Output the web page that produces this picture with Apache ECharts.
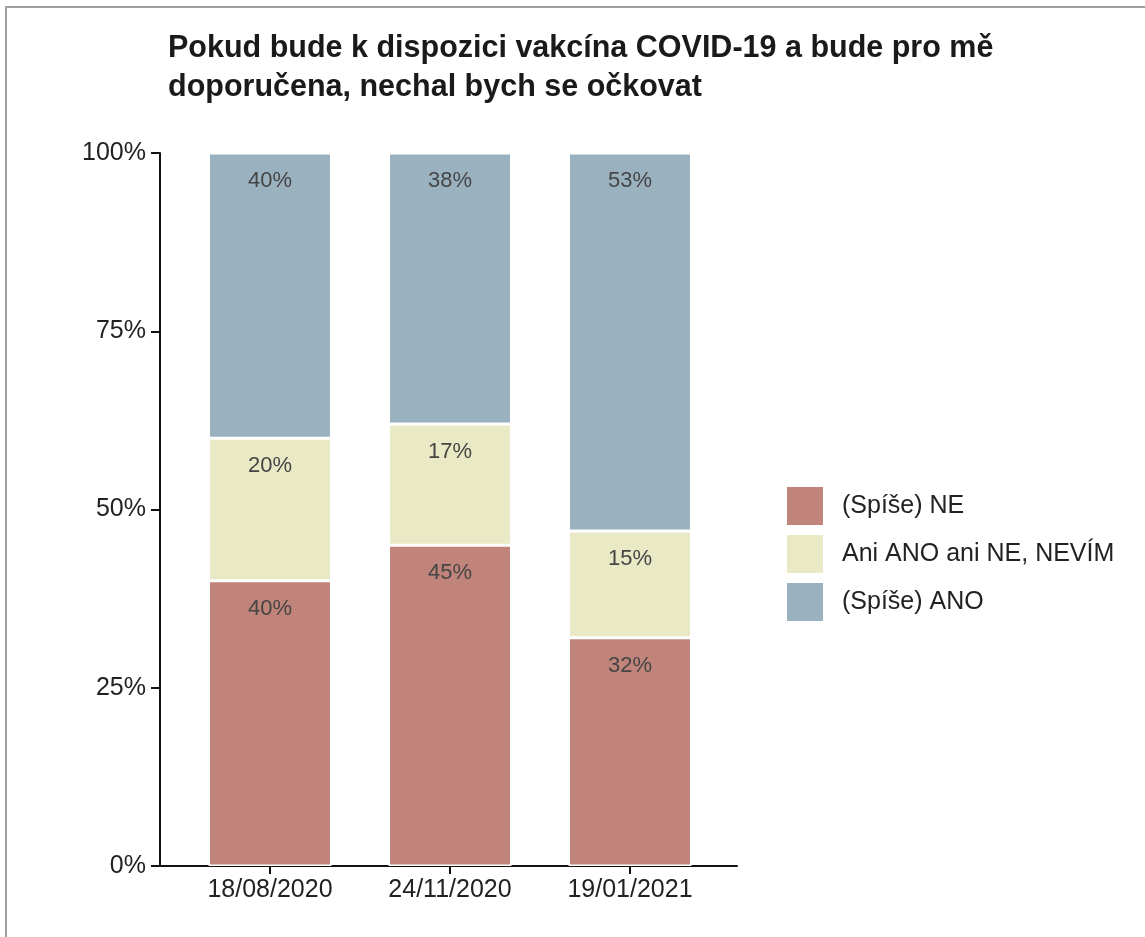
<!DOCTYPE html>
<html>
<head>
<meta charset="utf-8">
<script src="https://cdn.jsdelivr.net/npm/echarts@6/dist/echarts.min.js"></script>
<style>
    html, body { margin: 0; padding: 0; background: #fff; }
    #chart { width: 1145px; height: 937px; }
    #frame { position: absolute; left: 5px; top: 6px; right: 0; bottom: 0; border-top: 2px solid #a0a0a0; border-left: 2px solid #a0a0a0; pointer-events: none; }
</style>
</head>
<body>
<div id="chart"></div>
<div id="frame"></div>
<script>
var titleText = 'Pokud bude k dispozici vakcína COVID-19 a bude pro mě\ndoporučena, nechal bych se očkovat';
var dates = ['18/08/2020', '24/11/2020', '19/01/2021'];
var seriesNames = ['(Spíše) NE', 'Ani ANO ani NE, NEVÍM', '(Spíše) ANO'];
var valuesNe = [40, 45, 32];
var valuesNeutral = [20, 17, 15];
var valuesAno = [40, 38, 53];
var colors = ['#c0847a', '#e9e9c6', '#9ab2bf'];

var fontFamily = '"Liberation Sans", Arial, sans-serif';

function makeSeries(name, values, color) {
    return {
        name: name,
        type: 'bar',
        stack: 'total',
        xAxisIndex: 1,
        yAxisIndex: 1,
        barWidth: 123,
        data: values,
        itemStyle: {
            color: color,
            borderColor: '#ffffff',
            borderWidth: 1.5
        },
        label: {
            show: true,
            position: 'insideTop',
            distance: 17,
            color: '#454545',
            fontSize: 22,
            fontFamily: fontFamily,
            formatter: '{c}%'
        }
    };
}

var chartDom = document.getElementById('chart');
var myChart = echarts.init(chartDom);
var option = {
    animation: false,
    title: {
        text: titleText,
        left: 163,
        top: 24,
        textStyle: {
            fontFamily: fontFamily,
            fontWeight: 'bold',
            fontSize: 30.5,
            lineHeight: 39,
            color: '#1a1a1a'
        }
    },
    legend: {
        orient: 'vertical',
        left: 780,
        top: 480,
        itemWidth: 38,
        itemHeight: 40,
        itemGap: 6,
        icon: 'rect',
        data: seriesNames,
        textStyle: {
            fontFamily: fontFamily,
            fontSize: 25,
            color: '#222',
            padding: [0, 0, 0, 13]
        }
    },
    // grid 0 holds the long axis lines, grid 1 holds the bars
    grid: [
        { left: 160, right: 408, top: 153, bottom: 71 },
        { left: 180, right: 425, top: 153, bottom: 71 }
    ],
    xAxis: [
        {
            type: 'value',
            gridIndex: 0,
            min: 0,
            max: 1,
            splitLine: { show: false },
            axisTick: { show: false },
            axisLabel: { show: false },
            axisLine: {
                show: true,
                lineStyle: { color: '#111', width: 2 }
            }
        },
        {
            type: 'category',
            gridIndex: 1,
            data: dates,
            axisLine: { show: false },
            axisTick: {
                show: true,
                alignWithLabel: true,
                length: 8,
                lineStyle: { color: '#111', width: 2 }
            },
            axisLabel: {
                margin: 12,
                fontFamily: fontFamily,
                fontSize: 25,
                color: '#222'
            }
        }
    ],
    yAxis: [
        {
            type: 'value',
            gridIndex: 0,
            min: 0,
            max: 100,
            interval: 25,
            splitLine: { show: false },
            axisLine: {
                show: true,
                lineStyle: { color: '#111', width: 2 }
            },
            axisTick: {
                show: true,
                length: 9,
                lineStyle: { color: '#111', width: 2 }
            },
            axisLabel: {
                margin: 14,
                fontFamily: fontFamily,
                fontSize: 25,
                color: '#222',
                formatter: '{value}%'
            }
        },
        {
            type: 'value',
            gridIndex: 1,
            min: 0,
            max: 100,
            show: false
        }
    ],
    series: [
        makeSeries(seriesNames[0], valuesNe, colors[0]),
        makeSeries(seriesNames[1], valuesNeutral, colors[1]),
        makeSeries(seriesNames[2], valuesAno, colors[2])
    ]
};
option && myChart.setOption(option);
</script>
</body>
</html>
